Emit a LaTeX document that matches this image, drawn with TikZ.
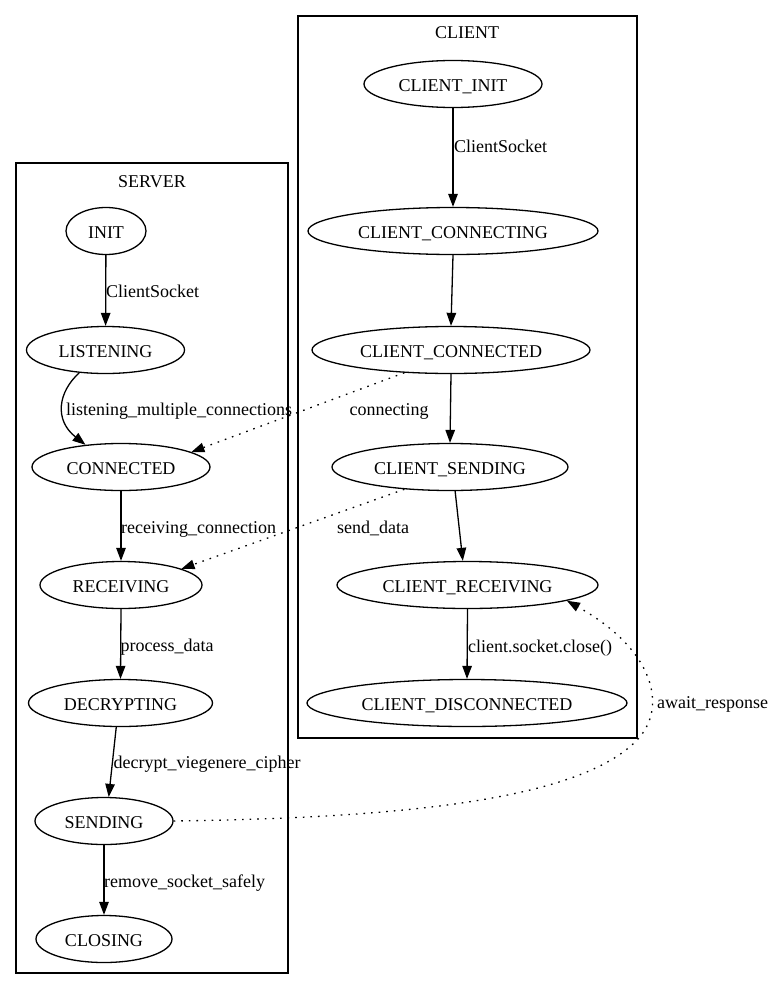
\documentclass[tikz,border=0pt]{standalone}
\usepackage{fontspec}
\setmainfont{Liberation Serif}
\usetikzlibrary{shapes.geometric,arrows.meta}
\begin{document}
\begin{tikzpicture}[x=1pt,y=-1pt,
  every node/.style={font=\fontsize{18}{20}\selectfont},
  st/.style={draw,ellipse,line width=1.3pt,inner sep=0pt,minimum height=47pt,text height=14pt,text depth=0pt},
  cluster/.style={draw,line width=1.3pt},
  edge/.style={line width=1.3pt,-{Triangle[length=13pt,width=9.5pt]}},
  dedge/.style={edge,dash pattern=on 1.6pt off 6pt},
  lbl/.style={anchor=base west,inner sep=0pt},
  clbl/.style={anchor=base,inner sep=0pt}]
\useasboundingbox (0,0) rectangle (772,990);
% clusters
\draw[cluster] (16,163) rectangle (288,973);
\draw[cluster] (298,16) rectangle (637,738);
\node[clbl] (serverlbl) at (152,187) {SERVER};
\node[clbl] (clientlbl) at (467,38) {CLIENT};
% server nodes
\node[st,minimum width=80pt] (INIT) at (106,231) {INIT};
\node[st,minimum width=158pt] (LISTENING) at (105.5,350) {LISTENING};
\node[st,minimum width=178pt] (CONNECTED) at (121,467) {CONNECTED};
\node[st,minimum width=162pt] (RECEIVING) at (121,585) {RECEIVING};
\node[st,minimum width=184pt] (DECRYPTING) at (120.5,703) {DECRYPTING};
\node[st,minimum width=138pt] (SENDING) at (104,821) {SENDING};
\node[st,minimum width=136pt] (CLOSING) at (104,939) {CLOSING};
% client nodes
\node[st,minimum width=178pt] (CINIT) at (453,84) {CLIENT\_INIT};
\node[st,minimum width=290pt] (CCONNECTING) at (453,231) {CLIENT\_CONNECTING};
\node[st,minimum width=278pt] (CCONNECTED) at (451,350) {CLIENT\_CONNECTED};
\node[st,minimum width=236pt] (CSENDING) at (450,467) {CLIENT\_SENDING};
\node[st,minimum width=261pt] (CRECEIVING) at (467.5,585) {CLIENT\_RECEIVING};
\node[st,minimum width=320pt] (CDISCONNECTED) at (467,703) {CLIENT\_DISCONNECTED};
% server edges
\draw[edge] (INIT) -- (LISTENING);
\node[lbl] (l1) at (106,297) {ClientSocket};
\draw[edge] (LISTENING.-139) .. controls (58,392) and (54,420) .. (CONNECTED.148);
\node[lbl] (l2) at (66,415) {listening\_multiple\_connections};
\draw[edge] (CONNECTED) -- (RECEIVING);
\node[lbl] (l3) at (121,533) {receiving\_connection};
\draw[edge] (RECEIVING.south) -- (DECRYPTING.north);
\node[lbl] (l4) at (120.5,651) {process\_data};
\draw[edge] (DECRYPTING.-100) -- (SENDING.79);
\node[lbl] (l5) at (113.5,768) {decrypt\_viegenere\_cipher};
\draw[edge] (SENDING) -- (CLOSING);
\node[lbl] (l6) at (104,887) {remove\_socket\_safely};
% client edges
\draw[edge] (CINIT) -- (CCONNECTING);
\node[lbl] (l7) at (454,152) {ClientSocket};
\draw[edge] (CCONNECTING.south) -- (CCONNECTED.north);
\draw[edge] (CCONNECTED.south) -- (CSENDING.north);
\draw[edge] (CSENDING.-78) -- (CRECEIVING.101);
\draw[edge] (CRECEIVING.south) -- (CDISCONNECTED.north);
\node[lbl] (l8) at (468,652) {client.socket.close()};
% cross edges
\draw[dedge] (CCONNECTED.206) -- (CONNECTED.12);
\node[clbl] (l9) at (389,415) {connecting};
\draw[dedge] (CSENDING.206) -- (RECEIVING.15);
\node[clbl] (l10) at (373,533) {send\_data};
\draw[dedge] (SENDING.east) .. controls (400,818) and (580,800) .. (637,740)
   .. controls (668,708) and (655,650) .. (CRECEIVING.-9);
\node[lbl] (l11) at (657,708) {await\_response};
\end{tikzpicture}
\end{document}
